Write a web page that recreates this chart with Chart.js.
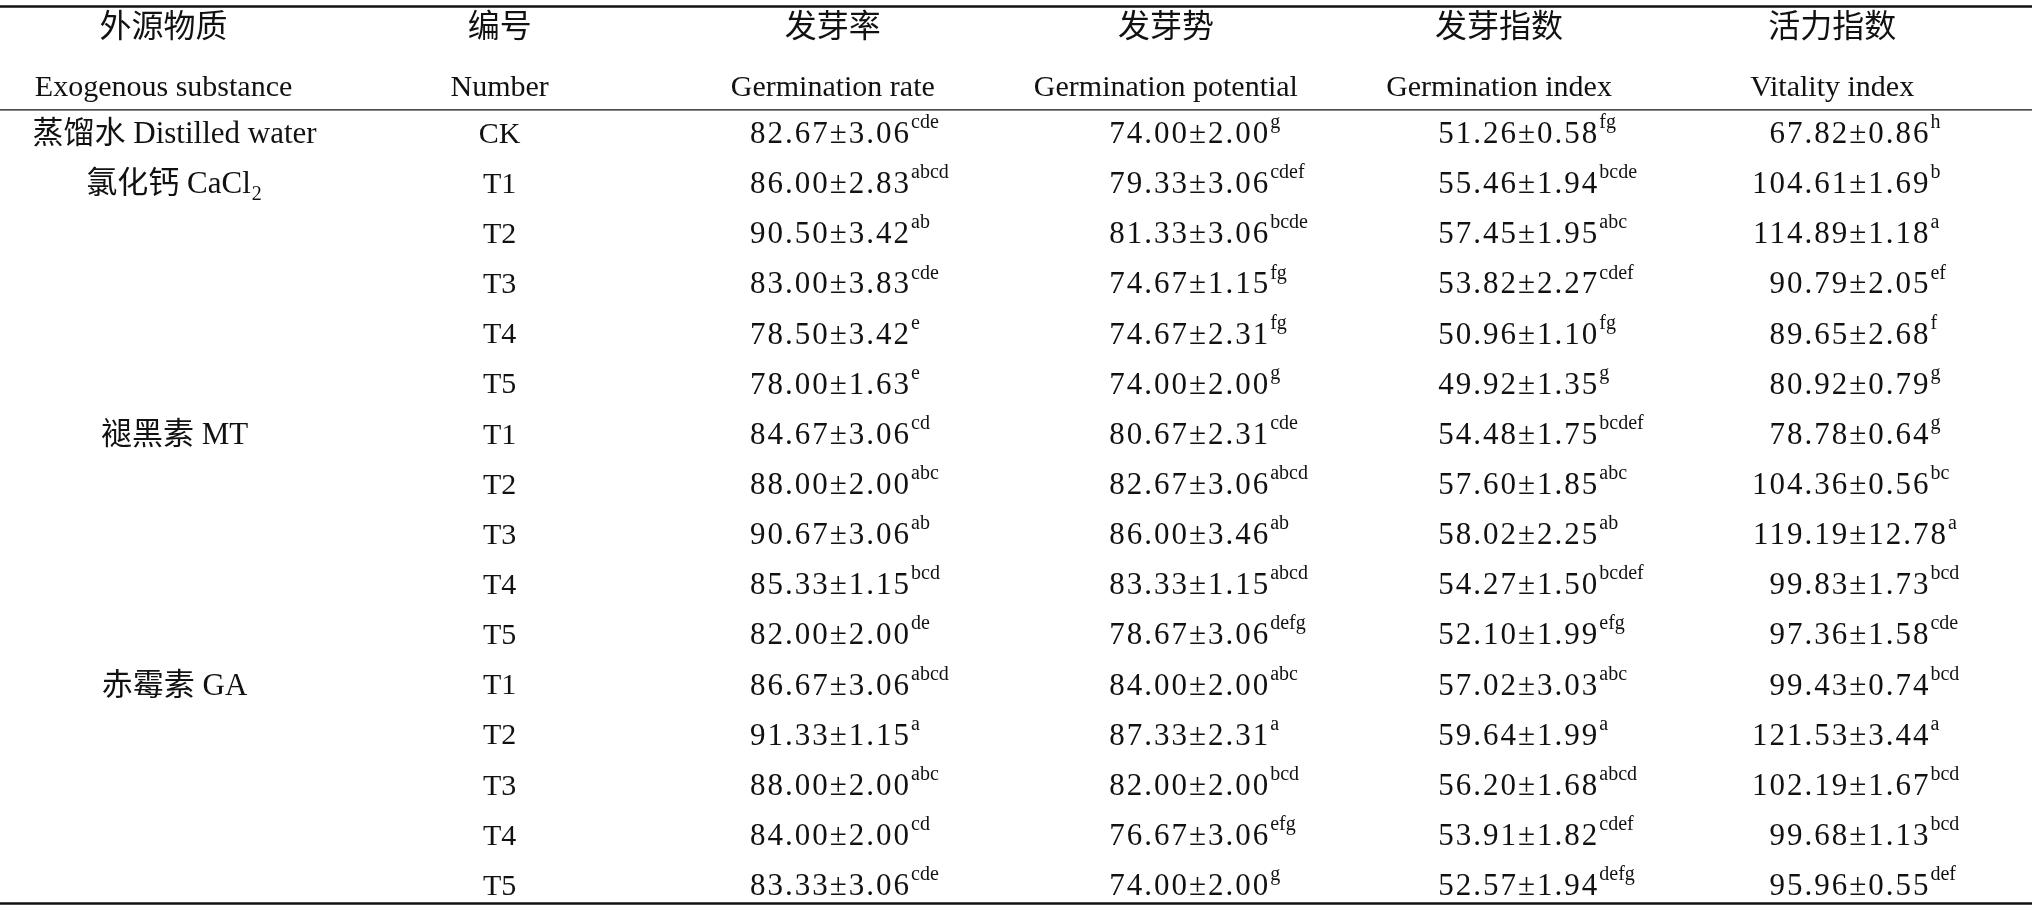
<!DOCTYPE html>
<html><head><meta charset="utf-8">
<script src="https://cdn.jsdelivr.net/npm/chart.js@4.4.1/dist/chart.umd.min.js"></script>
<style>html,body{margin:0;background:#fff}#w{width:2032px;height:912px}</style>
</head><body><div id="w"><canvas id="c"></canvas></div>
<script>
const headersCN = ["外源物质","编号","发芽率","发芽势","发芽指数","活力指数"];
const headersEN = ["Exogenous substance","Number","Germination rate","Germination potential","Germination index","Vitality index"];
const groups = [[0,"蒸馏水 Distilled water"],[1,"氯化钙 CaCl|2"],[6,"褪黑素 MT"],[11,"赤霉素 GA"]];
const numbers = ["CK","T1","T2","T3","T4","T5","T1","T2","T3","T4","T5","T1","T2","T3","T4","T5"];
const germRate = [["82.67","3.06","cde"],["86.00","2.83","abcd"],["90.50","3.42","ab"],["83.00","3.83","cde"],["78.50","3.42","e"],["78.00","1.63","e"],["84.67","3.06","cd"],["88.00","2.00","abc"],["90.67","3.06","ab"],["85.33","1.15","bcd"],["82.00","2.00","de"],["86.67","3.06","abcd"],["91.33","1.15","a"],["88.00","2.00","abc"],["84.00","2.00","cd"],["83.33","3.06","cde"]];
const germPot = [["74.00","2.00","g"],["79.33","3.06","cdef"],["81.33","3.06","bcde"],["74.67","1.15","fg"],["74.67","2.31","fg"],["74.00","2.00","g"],["80.67","2.31","cde"],["82.67","3.06","abcd"],["86.00","3.46","ab"],["83.33","1.15","abcd"],["78.67","3.06","defg"],["84.00","2.00","abc"],["87.33","2.31","a"],["82.00","2.00","bcd"],["76.67","3.06","efg"],["74.00","2.00","g"]];
const germIdx = [["51.26","0.58","fg"],["55.46","1.94","bcde"],["57.45","1.95","abc"],["53.82","2.27","cdef"],["50.96","1.10","fg"],["49.92","1.35","g"],["54.48","1.75","bcdef"],["57.60","1.85","abc"],["58.02","2.25","ab"],["54.27","1.50","bcdef"],["52.10","1.99","efg"],["57.02","3.03","abc"],["59.64","1.99","a"],["56.20","1.68","abcd"],["53.91","1.82","cdef"],["52.57","1.94","defg"]];
const vitIdx = [["67.82","0.86","h"],["104.61","1.69","b"],["114.89","1.18","a"],["90.79","2.05","ef"],["89.65","2.68","f"],["80.92","0.79","g"],["78.78","0.64","g"],["104.36","0.56","bc"],["119.19","12.78","a"],["99.83","1.73","bcd"],["97.36","1.58","cde"],["99.43","0.74","bcd"],["121.53","3.44","a"],["102.19","1.67","bcd"],["99.68","1.13","bcd"],["95.96","0.55","def"]];
const valueCols = [germRate, germPot, germIdx, vitIdx];

const FONT = '"Liberation Serif","Noto Sans CJK SC",serif';
const tablePlugin = {
  id:'table',
  afterDraw(chart){
    const ctx = chart.ctx, xs = chart.scales.x, ys = chart.scales.y;
    const X = v=>xs.getPixelForValue(v), Y = v=>ys.getPixelForValue(v);
    ctx.save();
    ctx.fillStyle='#111'; ctx.strokeStyle='#111';
    const rule=(v,w)=>{ctx.lineWidth=w;ctx.beginPath();ctx.moveTo(0,Y(v));ctx.lineTo(2032,Y(v));ctx.stroke();};
    rule(-2.56,2.5); rule(-0.5,1.3); rule(15.33,2.5);
    ctx.textBaseline='middle';
    ctx.font='32px '+FONT; ctx.textAlign='center';
    headersCN.forEach((h,i)=>{ctx.fillText(h,X(i)+(i==0?-3:0),Y(-2.12));});
    ctx.font='30px '+FONT;
    headersEN.forEach((h,i)=>{ctx.fillText(h,X(i)+(i==0?-3:0),Y(-0.93));});
    ctx.font='30px '+FONT;
    numbers.forEach((n,r)=>ctx.fillText(n,X(1),Y(r)));
    groups.forEach(([r,t])=>{
      const [a,sub]=t.split('|');
      ctx.font='31px '+FONT;
      const wa=ctx.measureText(a).width;
      const w=wa+(sub?12:0);
      ctx.textAlign='left';
      const x0=X(0)+8-w/2;
      ctx.fillText(a,x0,Y(r));
      if(sub){ctx.font='20px '+FONT;ctx.fillText(sub,x0+wa+1,Y(r)+10);}
      ctx.textAlign='center';
    });
    const dotOff=[-38,-12,-16,-18];
    ctx.textAlign='left';
    valueCols.forEach((col,ci)=>{
      col.forEach(([m,s,l],r)=>{
        ctx.font='31px '+FONT; ctx.letterSpacing='2px';
        const ip=m.split('.')[0]+'.';
        const x0=X(ci+2)+dotOff[ci]-ctx.measureText(ip).width;
        const t=m+'±'+s;
        ctx.fillText(t,x0,Y(r));
        const w=ctx.measureText(t).width;
        ctx.letterSpacing='0px'; ctx.font='20px '+FONT;
        ctx.fillText(l,x0+w,Y(r)-12);
      });
    });
    ctx.restore();
  }
};
new Chart(document.getElementById('c'),{
  type:'scatter',
  data:{datasets:[{data:numbers.map((n,i)=>({x:1,y:i})),pointRadius:0}]},
  options:{responsive:true,maintainAspectRatio:false,animation:false,
    layout:{padding:0},
    plugins:{legend:{display:false},tooltip:{enabled:false}},
    scales:{x:{type:'linear',min:-0.5,max:5.6,display:false},
            y:{type:'linear',min:-2.69,max:15.5,reverse:true,display:false}}},
  plugins:[tablePlugin]
});
</script></body></html>
